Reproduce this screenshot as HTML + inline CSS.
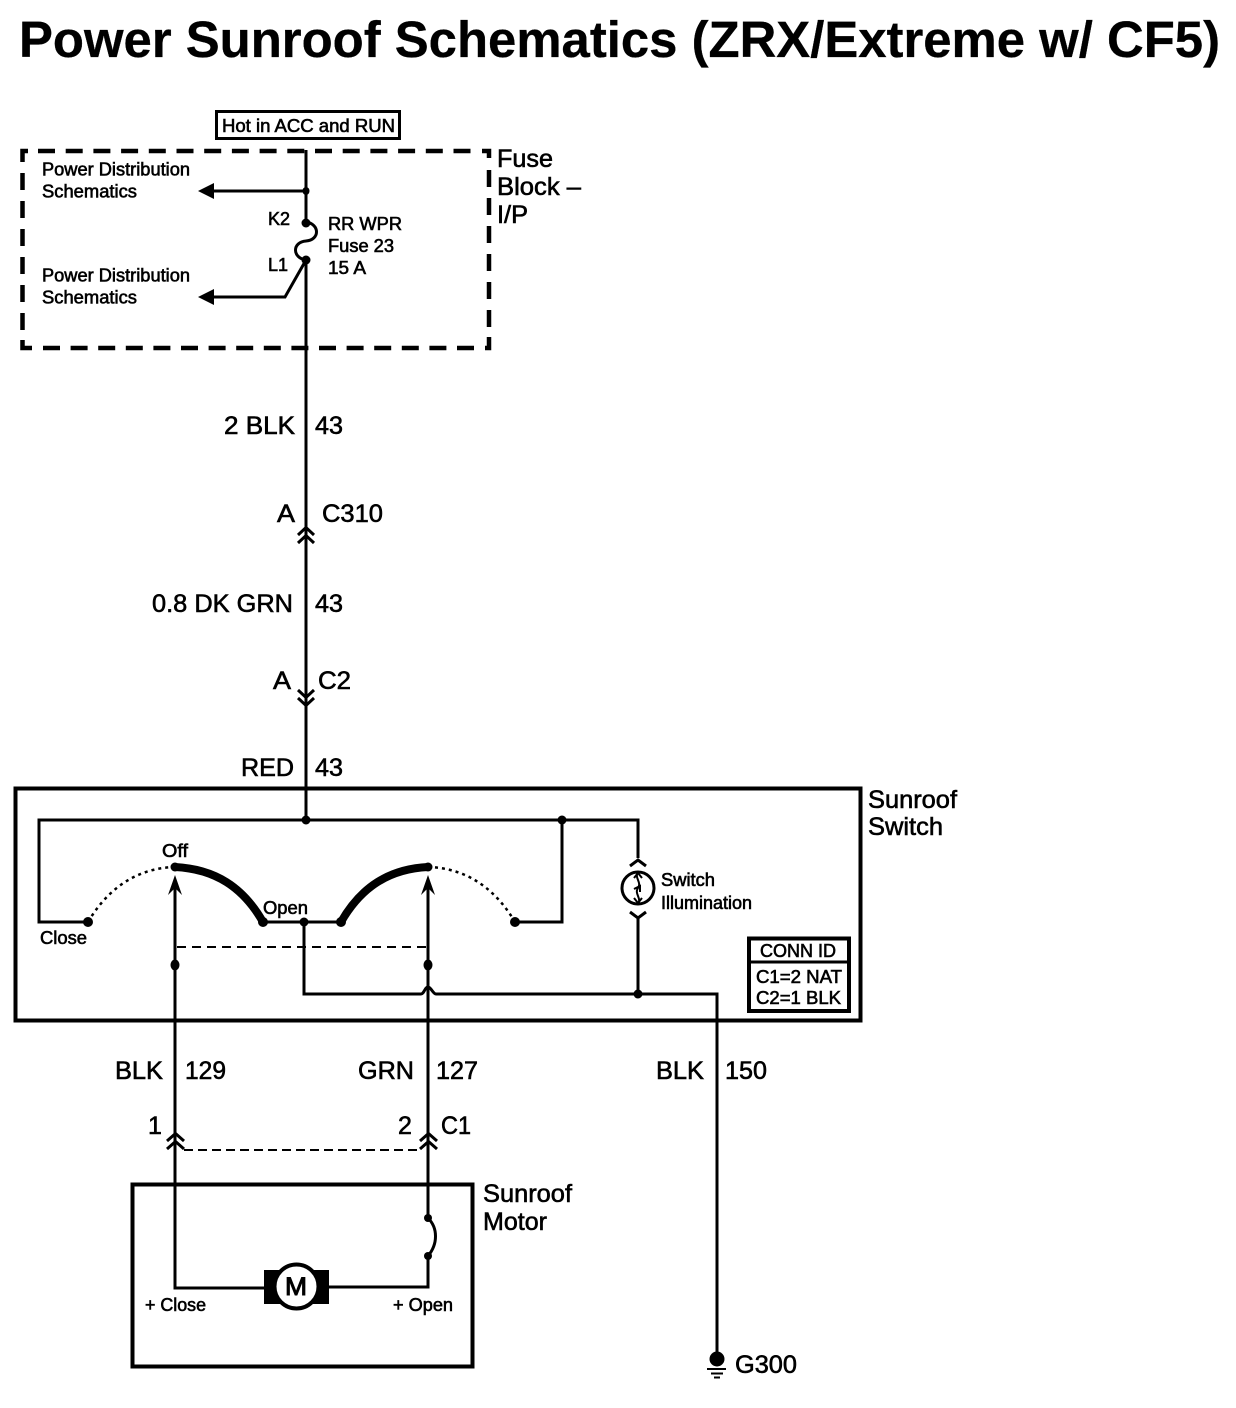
<!DOCTYPE html>
<html><head><meta charset="utf-8"><style>
html,body{margin:0;padding:0;background:#fff}
svg{display:block}
text{font-family:"Liberation Sans",Arial,sans-serif;fill:#000;stroke:#000;stroke-width:.6}
.w{font-size:25px}.s{font-size:18px}
.l{fill:none;stroke:#000;stroke-width:3}
.d{fill:none;stroke:#000;stroke-width:4.500}
</style></head><body>
<svg width="1236" height="1408" viewBox="0 0 1236 1408" xmlns="http://www.w3.org/2000/svg">
<rect width="1236" height="1408" fill="#fff"/>
<text x="19" y="57" font-size="51" font-weight="bold" textLength="1201" lengthAdjust="spacingAndGlyphs" style="stroke-width:.3">Power Sunroof Schematics (ZRX/Extreme w/ CF5)</text>

<!-- boxes -->
<rect x="216.5" y="111.5" width="183" height="27" fill="none" stroke="#000" stroke-width="3"/>
<path class="d" d="M28 151H22.500V162M22.500 340V348H32M482 151H489V158M489 337V348H485"/>
<path class="d" stroke-dasharray="17 10.700" d="M38 151H480"/>
<path class="d" stroke-dasharray="17 10.600" d="M43 348H480"/>
<path class="d" stroke-dasharray="17 11" d="M22.500 173V330"/>
<path class="d" stroke-dasharray="17 11" d="M489 170V327"/>
<rect x="15.5" y="788.5" width="845" height="232" fill="none" stroke="#000" stroke-width="4"/>
<rect x="132.5" y="1184.5" width="340" height="182" fill="none" stroke="#000" stroke-width="4"/>
<rect x="749" y="938.5" width="100" height="72.5" fill="none" stroke="#000" stroke-width="4"/>
<line x1="749" y1="962" x2="849" y2="962" stroke="#000" stroke-width="3"/>

<!-- main wire -->
<path class="l" d="M306 150V222M306 260V820"/>
<path class="l" d="M306 222C320 224 320 240 306 241C292 242 292 258 306 260"/>
<path class="l" d="M306 191H212M306 260L285 297H212"/>
<path d="M198 191L214 183V199ZM198 297L214 289V305Z"/>
<ellipse cx="306" cy="191" rx="3.500" ry="4"/><circle cx="306" cy="223" r="4.500"/><circle cx="306" cy="260" r="4.500"/>

<!-- C310 / C2 -->
<path class="l" d="M298 535L306 527.500L314 535M298 543L306 535.500L314 543"/>
<path class="l" d="M298 690L306 697.500L314 690M298 698L306 705.500L314 698"/>

<!-- switch -->
<path class="l" d="M638 858V820H39V922H88"/>
<path class="l" d="M263 922H341M515 922H562V820"/>
<path class="l" d="M304 922V994H421C424 994 425 987 428 987C431 987 433 994 436 994H717V1352"/>
<path d="M88 922C110 885 140 868 175 867" fill="none" stroke="#000" stroke-width="2.500" stroke-dasharray="3 4"/>
<path d="M428 867C463 868 493 885 515 922" fill="none" stroke="#000" stroke-width="2.500" stroke-dasharray="3 4"/>
<path d="M175 867C215 869 243 887 263 922M341 922C361 887 389 869 428 867" fill="none" stroke="#000" stroke-width="8" stroke-linecap="round"/>
<g>
<circle cx="306" cy="820" r="4.500"/><circle cx="562" cy="820" r="4.500"/><circle cx="88" cy="922" r="5"/>
<circle cx="175" cy="867" r="4.500"/><circle cx="428" cy="867" r="4.500"/><circle cx="263" cy="922" r="5"/>
<circle cx="341" cy="922" r="5"/><circle cx="304" cy="922" r="4.500"/><circle cx="515" cy="922" r="5"/>
<circle cx="638" cy="994" r="4.500"/><ellipse cx="175" cy="965" rx="4.500" ry="5.500"/><ellipse cx="428" cy="965" rx="4.500" ry="5.500"/>
</g>
<line x1="177" y1="947" x2="428" y2="947" stroke="#000" stroke-width="2" stroke-dasharray="9 6"/>

<!-- contact arrows -->
<path class="l" d="M175 880V1288H265M428 880V1218M428 1256V1287H329"/>
<path d="M175 875L182 895L175 888L168 895ZM428 875L435 895L428 888L421 895Z"/>

<!-- lamp -->
<path class="l" d="M630 866L638 860L646 866M630 912L638 918L646 912M638 918V994"/>
<circle cx="638" cy="888" r="16" fill="none" stroke="#000" stroke-width="3"/>
<path d="M638 872C634 878 642 882 638 888C634 894 642 898 638 904" fill="none" stroke="#000" stroke-width="2"/>
<path d="M634 878L638 873L642 878M634 889L640 886L640 892M634 898L638 903L642 898" fill="none" stroke="#000" stroke-width="2"/>

<!-- C1 -->
<path class="l" d="M167 1141L175.500 1133.500L184 1141M167 1149L175.500 1141.500L184 1149"/>
<path class="l" d="M420 1141L428.500 1133.500L437 1141M420 1149L428.500 1141.500L437 1149"/>
<line x1="184" y1="1150" x2="421" y2="1150" stroke="#000" stroke-width="2" stroke-dasharray="9 5"/>

<!-- motor switch + motor -->
<path d="M428 1218C438 1228 438 1244 428 1256" fill="none" stroke="#000" stroke-width="3"/>
<circle cx="428" cy="1218" r="4"/><circle cx="428" cy="1256" r="4"/>
<rect x="264" y="1270" width="65" height="34"/>
<circle cx="296.500" cy="1286.500" r="22" fill="#fff" stroke="#000" stroke-width="4"/>

<!-- ground -->
<circle cx="717" cy="1359" r="7.500"/>
<path d="M707 1369H726M711 1373.500H723M714 1377.500H720" stroke="#000" stroke-width="2" fill="none"/>

<!-- small labels -->
<g class="s">
<text x="222" y="132" textLength="173" lengthAdjust="spacingAndGlyphs">Hot in ACC and RUN</text>
<text x="42" y="175.500" textLength="148" lengthAdjust="spacingAndGlyphs">Power Distribution</text>
<text x="42" y="197.500" textLength="95" lengthAdjust="spacingAndGlyphs">Schematics</text>
<text x="42" y="281.500" textLength="148" lengthAdjust="spacingAndGlyphs">Power Distribution</text>
<text x="42" y="303.500" textLength="95" lengthAdjust="spacingAndGlyphs">Schematics</text>
<text x="268" y="225" textLength="22" lengthAdjust="spacingAndGlyphs">K2</text>
<text x="268" y="271" textLength="20" lengthAdjust="spacingAndGlyphs">L1</text>
<text x="328" y="230" textLength="74" lengthAdjust="spacingAndGlyphs">RR WPR</text>
<text x="328" y="252" textLength="66" lengthAdjust="spacingAndGlyphs">Fuse 23</text>
<text x="328" y="274" textLength="38" lengthAdjust="spacingAndGlyphs">15 A</text>
<text x="162" y="857" textLength="26" lengthAdjust="spacingAndGlyphs">Off</text>
<text x="263" y="914" textLength="45" lengthAdjust="spacingAndGlyphs">Open</text>
<text x="40" y="944" textLength="47" lengthAdjust="spacingAndGlyphs">Close</text>
<text x="661" y="886" textLength="54" lengthAdjust="spacingAndGlyphs">Switch</text>
<text x="661" y="909" textLength="91" lengthAdjust="spacingAndGlyphs">Illumination</text>
<text x="760" y="957" textLength="76" lengthAdjust="spacingAndGlyphs">CONN ID</text>
<text x="756" y="983" textLength="86" lengthAdjust="spacingAndGlyphs">C1=2 NAT</text>
<text x="756" y="1004" textLength="85" lengthAdjust="spacingAndGlyphs">C2=1 BLK</text>
<text x="145" y="1311" textLength="61" lengthAdjust="spacingAndGlyphs">+ Close</text>
<text x="393" y="1311" textLength="60" lengthAdjust="spacingAndGlyphs">+ Open</text>
</g>

<!-- large labels -->
<g class="w">
<text x="497" y="167" textLength="56" lengthAdjust="spacingAndGlyphs">Fuse</text>
<text x="497" y="195" textLength="84" lengthAdjust="spacingAndGlyphs">Block –</text>
<text x="497" y="223" textLength="31" lengthAdjust="spacingAndGlyphs">I/P</text>
<text x="224" y="434" textLength="71" lengthAdjust="spacingAndGlyphs">2 BLK</text>
<text x="315" y="434" textLength="28" lengthAdjust="spacingAndGlyphs">43</text>
<text x="277" y="522" textLength="18" lengthAdjust="spacingAndGlyphs">A</text>
<text x="322" y="522" textLength="61" lengthAdjust="spacingAndGlyphs">C310</text>
<text x="152" y="612" textLength="141" lengthAdjust="spacingAndGlyphs">0.8 DK GRN</text>
<text x="315" y="612" textLength="28" lengthAdjust="spacingAndGlyphs">43</text>
<text x="273" y="689" textLength="18" lengthAdjust="spacingAndGlyphs">A</text>
<text x="318" y="689" textLength="33" lengthAdjust="spacingAndGlyphs">C2</text>
<text x="241" y="776" textLength="53" lengthAdjust="spacingAndGlyphs">RED</text>
<text x="315" y="776" textLength="28" lengthAdjust="spacingAndGlyphs">43</text>
<text x="868" y="808" textLength="89" lengthAdjust="spacingAndGlyphs">Sunroof</text>
<text x="868" y="835" textLength="75" lengthAdjust="spacingAndGlyphs">Switch</text>
<text x="115" y="1079" textLength="48" lengthAdjust="spacingAndGlyphs">BLK</text>
<text x="185" y="1079" textLength="41" lengthAdjust="spacingAndGlyphs">129</text>
<text x="358" y="1079" textLength="56" lengthAdjust="spacingAndGlyphs">GRN</text>
<text x="436" y="1079" textLength="42" lengthAdjust="spacingAndGlyphs">127</text>
<text x="656" y="1079" textLength="48" lengthAdjust="spacingAndGlyphs">BLK</text>
<text x="725" y="1079" textLength="42" lengthAdjust="spacingAndGlyphs">150</text>
<text x="148" y="1134">1</text>
<text x="398" y="1134">2</text>
<text x="441" y="1134" textLength="30" lengthAdjust="spacingAndGlyphs">C1</text>
<text x="483" y="1202" textLength="89" lengthAdjust="spacingAndGlyphs">Sunroof</text>
<text x="483" y="1230" textLength="64" lengthAdjust="spacingAndGlyphs">Motor</text>
<text x="285" y="1295" textLength="22" lengthAdjust="spacingAndGlyphs" style="stroke-width:1">M</text>
<text x="735" y="1373" textLength="62" lengthAdjust="spacingAndGlyphs">G300</text>
</g>
</svg>
</body></html>
